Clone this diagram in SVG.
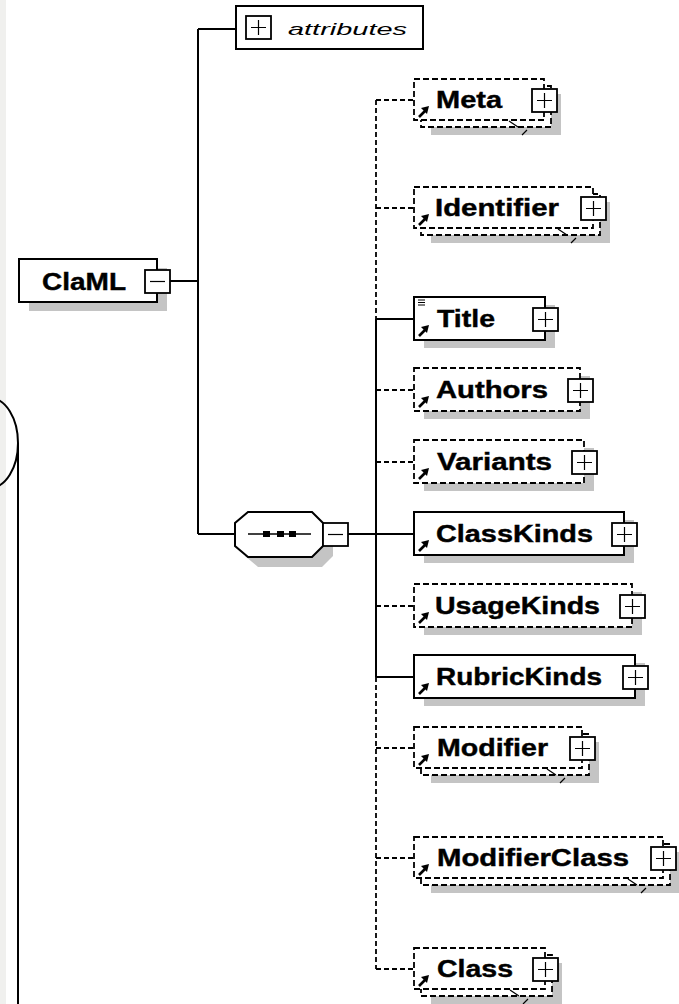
<svg xmlns="http://www.w3.org/2000/svg" xmlns:xlink="http://www.w3.org/1999/xlink" width="679" height="1004" viewBox="0 0 679 1004">
<style>
.box{fill:#fff;stroke:#000;stroke-width:2}
.dbox{fill:#fff;stroke:#000;stroke-width:1.8;stroke-dasharray:6 3}
.shadow{fill:#c4c4c4}
.ln{stroke:#000;stroke-width:2;fill:none}
.dln{stroke:#000;stroke-width:1.8;stroke-dasharray:5 3;fill:none}
.lbl{font-family:"Liberation Sans",Arial,sans-serif;font-weight:bold;font-size:23px;fill:#000;stroke:#000;stroke-width:0.4}
.ital{font-family:"Liberation Sans",Arial,sans-serif;font-style:italic;font-size:17px;fill:#000}
.pm{fill:#fff;stroke:#000;stroke-width:1.8}
.tick{stroke:#000;stroke-width:1.2;fill:none}
</style>
<defs>
<g id="plus"><rect class="pm" x="0" y="0" width="25" height="23"/><path d="M5,11.5H20M12.5,4V19" class="tick" stroke-width="1.8"/></g>
<g id="minus"><rect class="pm" x="0" y="0" width="25" height="23"/><path d="M5,11.5H20" class="tick" stroke-width="1.8"/></g>
<g id="ref"><path d="M1,12L7,6" stroke="#000" stroke-width="2.6"/><polygon points="11,1 3,3 9,9" fill="#000"/></g>
</defs>
<rect x="0" y="0" width="679" height="1004" fill="#fff"/>
<rect x="0" y="0" width="6" height="1004" fill="#f0f0ee"/>
<ellipse cx="-10" cy="443" rx="28" ry="45" fill="none" stroke="#000" stroke-width="2"/>
<line x1="18" y1="443" x2="18" y2="1004" stroke="#000" stroke-width="2"/>

<g id="connectors">
<path class="ln" d="M170,281H198M198,29V534M198,29H236M198,534H235M348,534H376"/>
<path class="dln" d="M376,100V319"/>
<path class="ln" d="M376,319V677"/>
<path class="dln" d="M376,677V969"/>
<path class="dln" d="M376,100H414M376,208H414M376,390H414M376,462H414M376,606H414M376,748H414M376,858H414M376,969H414"/>
<path class="ln" d="M376,319H414M376,534H414M376,677H414"/>
</g>

<g id="ClaML">
<rect class="shadow" x="29" y="268" width="138" height="43"/>
<rect class="box" x="19" y="259" width="138" height="43"/>
<text class="lbl" x="42" y="290" textLength="84" lengthAdjust="spacingAndGlyphs">ClaML</text>
<use xlink:href="#minus" x="145" y="270"/>
</g>

<g id="attributes">
<rect class="box" x="236" y="6" width="187" height="43"/>
<use xlink:href="#plus" x="246" y="16"/>
<text class="ital" x="288" y="35" textLength="119" lengthAdjust="spacingAndGlyphs">attributes</text>
</g>

<g id="sequence">
<polygon class="shadow" points="258,522 322,522 333,533 333,556 322,567 258,567 245,556 245,533"/>
<polygon class="box" points="248,512 312,512 323,523 323,546 312,557 248,557 235,546 235,523"/>
<line x1="248" y1="534" x2="311" y2="534" stroke="#000" stroke-width="1.5"/>
<rect x="263" y="531" width="7" height="6" fill="#000"/>
<rect x="277" y="531" width="7" height="6" fill="#000"/>
<rect x="289" y="531" width="7" height="6" fill="#000"/>
<use xlink:href="#minus" x="323" y="523"/>
</g>

<g id="Meta">
<rect class="shadow" x="431" y="94" width="130" height="41"/>
<rect class="dbox" x="421" y="86" width="130" height="41"/>
<rect class="dbox" x="414" y="79" width="130" height="41"/>
<path class="tick" d="M509,121l9,6M522,135l5,-5"/>
<use xlink:href="#ref" x="418" y="105"/>
<text class="lbl" x="436" y="108" textLength="66" lengthAdjust="spacingAndGlyphs">Meta</text>
<use xlink:href="#plus" x="532" y="89"/>
</g>

<g id="Identifier">
<rect class="shadow" x="431" y="202" width="179" height="41"/>
<rect class="dbox" x="421" y="194" width="179" height="41"/>
<rect class="dbox" x="414" y="187" width="179" height="41"/>
<path class="tick" d="M558,229l9,6M571,243l5,-5"/>
<use xlink:href="#ref" x="418" y="213"/>
<text class="lbl" x="435" y="216" textLength="124" lengthAdjust="spacingAndGlyphs">Identifier</text>
<use xlink:href="#plus" x="581" y="197"/>
</g>

<g id="Title">
<rect class="shadow" x="424" y="305" width="131" height="43"/>
<rect class="box" x="414" y="297" width="131" height="43"/>
<path class="tick" d="M418,300h7M418,302.5h7M418,305h7"/>
<use xlink:href="#ref" x="418" y="324"/>
<text class="lbl" x="437" y="327" textLength="58" lengthAdjust="spacingAndGlyphs">Title</text>
<use xlink:href="#plus" x="533" y="308"/>
</g>

<g id="Authors">
<rect class="shadow" x="424" y="376" width="166" height="43"/>
<rect class="dbox" x="414" y="368" width="166" height="43"/>
<use xlink:href="#ref" x="418" y="395"/>
<text class="lbl" x="436" y="398" textLength="112" lengthAdjust="spacingAndGlyphs">Authors</text>
<use xlink:href="#plus" x="568" y="379"/>
</g>

<g id="Variants">
<rect class="shadow" x="424" y="448" width="170" height="43"/>
<rect class="dbox" x="414" y="440" width="170" height="43"/>
<use xlink:href="#ref" x="418" y="467"/>
<text class="lbl" x="437" y="470" textLength="115" lengthAdjust="spacingAndGlyphs">Variants</text>
<use xlink:href="#plus" x="572" y="451"/>
</g>

<g id="ClassKinds">
<rect class="shadow" x="424" y="520" width="210" height="43"/>
<rect class="box" x="414" y="512" width="210" height="43"/>
<use xlink:href="#ref" x="418" y="539"/>
<text class="lbl" x="436" y="542" textLength="157" lengthAdjust="spacingAndGlyphs">ClassKinds</text>
<use xlink:href="#plus" x="612" y="523"/>
</g>

<g id="UsageKinds">
<rect class="shadow" x="424" y="592" width="218" height="43"/>
<rect class="dbox" x="414" y="584" width="218" height="43"/>
<use xlink:href="#ref" x="418" y="611"/>
<text class="lbl" x="435" y="614" textLength="165" lengthAdjust="spacingAndGlyphs">UsageKinds</text>
<use xlink:href="#plus" x="620" y="595"/>
</g>

<g id="RubricKinds">
<rect class="shadow" x="424" y="663" width="221" height="43"/>
<rect class="box" x="414" y="655" width="221" height="43"/>
<use xlink:href="#ref" x="418" y="682"/>
<text class="lbl" x="436" y="685" textLength="166" lengthAdjust="spacingAndGlyphs">RubricKinds</text>
<use xlink:href="#plus" x="623" y="666"/>
</g>

<g id="Modifier">
<rect class="shadow" x="431" y="742" width="168" height="41"/>
<rect class="dbox" x="421" y="734" width="168" height="41"/>
<rect class="dbox" x="414" y="727" width="168" height="41"/>
<path class="tick" d="M547,769l9,6M560,783l5,-5"/>
<use xlink:href="#ref" x="418" y="753"/>
<text class="lbl" x="437" y="756" textLength="111" lengthAdjust="spacingAndGlyphs">Modifier</text>
<use xlink:href="#plus" x="570" y="737"/>
</g>

<g id="ModifierClass">
<rect class="shadow" x="431" y="852" width="249" height="41"/>
<rect class="dbox" x="421" y="844" width="249" height="41"/>
<rect class="dbox" x="414" y="837" width="249" height="41"/>
<path class="tick" d="M628,879l9,6M641,893l5,-5"/>
<use xlink:href="#ref" x="418" y="863"/>
<text class="lbl" x="437" y="866" textLength="192" lengthAdjust="spacingAndGlyphs">ModifierClass</text>
<use xlink:href="#plus" x="651" y="847"/>
</g>

<g id="Class">
<rect class="shadow" x="431" y="963" width="131" height="41"/>
<rect class="dbox" x="421" y="955" width="131" height="41"/>
<rect class="dbox" x="414" y="948" width="131" height="41"/>
<path class="tick" d="M510,990l9,6M523,1004l5,-5"/>
<use xlink:href="#ref" x="418" y="974"/>
<text class="lbl" x="437" y="977" textLength="76" lengthAdjust="spacingAndGlyphs">Class</text>
<use xlink:href="#plus" x="533" y="958"/>
</g>
</svg>
